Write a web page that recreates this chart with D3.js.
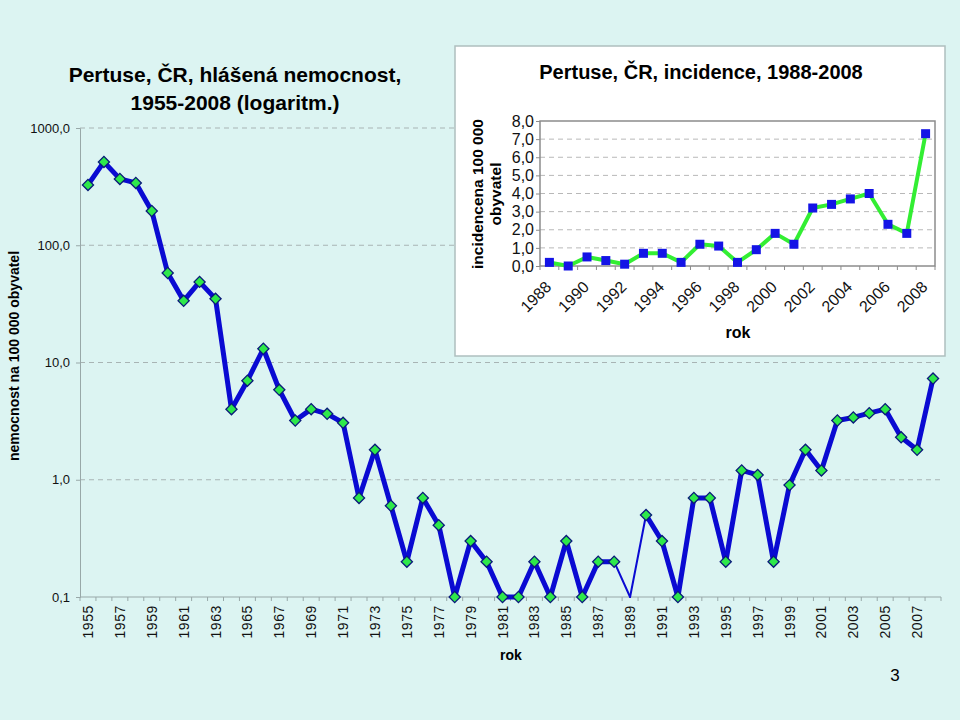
<!DOCTYPE html>
<html><head><meta charset="utf-8">
<script src="https://cdn.jsdelivr.net/npm/d3@7"></script>
<style>
html,body{margin:0;padding:0;background:#dcf4f2;}
svg{display:block;font-family:"Liberation Sans",Arial,sans-serif;}
</style></head>
<body>
<svg id="c" width="960" height="720"></svg>
<script>
// ---- main chart data (1955-2008, per 100 000, log scale) ----
const years = [1955,1956,1957,1958,1959,1960,1961,1962,1963,1964,1965,1966,1967,1968,1969,1970,1971,1972,1973,1974,1975,1976,1977,1978,1979,1980,1981,1982,1983,1984,1985,1986,1987,1988,1989,1990,1991,1992,1993,1994,1995,1996,1997,1998,1999,2000,2001,2002,2003,2004,2005,2006,2007,2008];
const morbidity = [327,514,368,340,196,58,33.6,48.7,34.9,4.0,7.0,13.1,5.85,3.2,4.0,3.65,3.06,0.7,1.8,0.6,0.2,0.7,0.41,0.1,0.3,0.2,0.1,0.1,0.2,0.1,0.3,0.1,0.2,0.2,0,0.5,0.3,0.1,0.7,0.7,0.2,1.2,1.1,0.2,0.9,1.8,1.2,3.2,3.4,3.7,4.0,2.3,1.8,7.3];
const mainYTicks = [1000,100,10,1,0.1];
const mainYTickLabels = ["1000,0","100,0","10,0","1,0","0,1"];

// ---- inset data (1988-2008) ----
const insetYears = [1988,1989,1990,1991,1992,1993,1994,1995,1996,1997,1998,1999,2000,2001,2002,2003,2004,2005,2006,2007,2008];
const incidence = [0.2,0.0,0.5,0.3,0.1,0.7,0.7,0.2,1.2,1.1,0.2,0.9,1.8,1.2,3.2,3.4,3.7,4.0,2.3,1.8,7.3];
const insetYTicks = [0,1,2,3,4,5,6,7,8];

const svg = d3.select("#c");
svg.append("rect").attr("width",960).attr("height",720).attr("fill","#dcf4f2");

// ================= MAIN CHART =================
const M = {left:80, right:941, top:128, bottom:597};
const x = d3.scaleBand().domain(years).range([M.left, M.right]);
const y = d3.scaleLog().domain([0.1,1000]).range([M.bottom, M.top]);
const fmt = d3.formatLocale({decimal:",",thousands:"\u00a0",grouping:[3],currency:["",""]});
const yv = v => v > 0 ? y(v) : M.bottom;
const cx = d => x(d) + x.bandwidth()/2;

const g = svg.append("g");
g.selectAll("line.grid").data(mainYTicks.slice(0,4)).join("line")
  .attr("x1",M.left).attr("x2",M.right).attr("y1",d=>y(d)).attr("y2",d=>y(d))
  .attr("stroke","#a8b4b4").attr("stroke-width",1).attr("stroke-dasharray","5,4");
const yAxis = d3.axisLeft(y).tickValues(mainYTicks).tickSize(4)
  .tickFormat((d,i)=>mainYTickLabels[i]);
const ya = g.append("g").attr("transform",`translate(${M.left},0)`).call(yAxis);
ya.select(".domain").attr("stroke","#98a8a8");
ya.selectAll(".tick line").attr("stroke","#98a8a8");
ya.selectAll("text").attr("font-size",13).attr("fill","#111").attr("x",-10)
  .attr("font-family","Liberation Sans, Arial, sans-serif");
g.append("line").attr("x1",M.left).attr("x2",M.right).attr("y1",M.bottom).attr("y2",M.bottom)
  .attr("stroke","#98a8a8");
const bounds = years.map(d=>x(d)).concat([M.right]);
g.selectAll("line.xt").data(bounds).join("line")
  .attr("x1",d=>d).attr("x2",d=>d).attr("y1",M.bottom).attr("y2",M.bottom+4)
  .attr("stroke","#98a8a8");
g.selectAll("text.xl").data(years.filter((d,i)=>i%2===0)).join("text")
  .attr("transform",d=>`translate(${cx(d)+5},${M.bottom+8}) rotate(-90)`)
  .attr("text-anchor","end").attr("font-size",14).attr("letter-spacing",0.6).attr("fill","#111")
  .text(d=>d);
const pts = years.map((d,i)=>({yr:d, v:morbidity[i]}));
for (let i=0;i<pts.length-1;i++){
  const a=pts[i], b=pts[i+1];
  const thin = a.v===0 || b.v===0;
  g.append("line").attr("x1",cx(a.yr)).attr("y1",yv(a.v)).attr("x2",cx(b.yr)).attr("y2",yv(b.v))
    .attr("stroke","#0a0ad2").attr("stroke-width",thin?2:5).attr("stroke-linecap","round");
}
g.selectAll("path.mk").data(pts.filter(p=>p.v>0)).join("path")
  .attr("d",d3.symbol(d3.symbolSquare,62)())
  .attr("transform",d=>`translate(${cx(d.yr)},${yv(d.v)}) rotate(45)`)
  .attr("fill","#2ee84a").attr("stroke","#0a1a7a").attr("stroke-width",1.3);

svg.append("text").attr("x",235).attr("y",82).attr("text-anchor","middle")
  .attr("font-size",21).attr("font-weight","bold").attr("fill","#000")
  .text("Pertuse, ČR, hlášená nemocnost,");
svg.append("text").attr("x",235).attr("y",110).attr("text-anchor","middle")
  .attr("font-size",21).attr("font-weight","bold").attr("fill","#000")
  .text("1955-2008 (logaritm.)");
svg.append("text").attr("transform","translate(19,356) rotate(-90)").attr("text-anchor","middle")
  .attr("font-size",14).attr("font-weight","bold").attr("fill","#000")
  .text("nemocnost na 100 000 obyvatel");
svg.append("text").attr("x",511).attr("y",660).attr("text-anchor","middle")
  .attr("font-size",14).attr("font-weight","bold").attr("fill","#000").text("rok");
svg.append("text").attr("x",895).attr("y",681).attr("text-anchor","middle")
  .attr("font-size",17).attr("fill","#000").text("3");

// ================= INSET =================
const ib = svg.append("g");
ib.append("rect").attr("x",455).attr("y",46).attr("width",490).attr("height",310)
  .attr("fill","#fff").attr("stroke","#aebfbf").attr("stroke-width",1.5);
const I = {left:540, right:935, top:121, bottom:266};
const xi = d3.scaleBand().domain(insetYears).range([I.left,I.right]);
const yi = d3.scaleLinear().domain([0,8]).range([I.bottom,I.top]);
const cxi = d => xi(d)+xi.bandwidth()/2;
ib.selectAll("line.ig").data(insetYTicks.slice(1,8)).join("line")
  .attr("x1",I.left).attr("x2",I.right).attr("y1",d=>yi(d)).attr("y2",d=>yi(d))
  .attr("stroke","#b8b8b8").attr("stroke-dasharray","5,4");
ib.append("rect").attr("x",I.left).attr("y",I.top).attr("width",I.right-I.left).attr("height",I.bottom-I.top)
  .attr("fill","none").attr("stroke","#8c8c8c").attr("stroke-width",1.5);
const yia = ib.append("g").attr("transform",`translate(${I.left},0)`)
  .call(d3.axisLeft(yi).tickValues(insetYTicks).tickSize(4).tickFormat(d=>fmt.format(".1f")(d)));
yia.select(".domain").remove();
yia.selectAll(".tick line").attr("stroke","#8c8c8c");
yia.selectAll("text").attr("font-size",16).attr("fill","#111").attr("x",-6)
  .attr("font-family","Liberation Sans, Arial, sans-serif");
const ibounds = insetYears.map(d=>xi(d)).concat([I.right]);
ib.selectAll("line.ixt").data(ibounds).join("line")
  .attr("x1",d=>d).attr("x2",d=>d).attr("y1",I.bottom).attr("y2",I.bottom+4).attr("stroke","#8c8c8c");
ib.selectAll("text.ixl").data(insetYears.filter((d,i)=>i%2===0)).join("text")
  .attr("transform",d=>`translate(${cxi(d)+3},${I.bottom+22}) rotate(-45)`)
  .attr("text-anchor","end").attr("font-size",16).attr("fill","#111").text(d=>d);
const ipts = insetYears.map((d,i)=>({yr:d,v:incidence[i]}));
ib.append("path").datum(ipts)
  .attr("d",d3.line().x(d=>cxi(d.yr)).y(d=>yi(d.v)))
  .attr("fill","none").attr("stroke","#33ee33").attr("stroke-width",4).attr("stroke-linejoin","round");
ib.selectAll("rect.sq").data(ipts).join("rect")
  .attr("x",d=>cxi(d.yr)-4.5).attr("y",d=>yi(d.v)-4.5).attr("width",9).attr("height",9)
  .attr("fill","#1414e6");
ib.append("text").attr("x",701).attr("y",79).attr("text-anchor","middle")
  .attr("font-size",20).attr("font-weight","bold").attr("fill","#000")
  .text("Pertuse, ČR, incidence, 1988-2008");
ib.append("text").attr("transform","translate(483,194) rotate(-90)").attr("text-anchor","middle")
  .attr("font-size",15.5).attr("font-weight","bold").attr("fill","#000").text("incidencena 100 000");
ib.append("text").attr("transform","translate(501,194) rotate(-90)").attr("text-anchor","middle")
  .attr("font-size",15.5).attr("font-weight","bold").attr("fill","#000").text("obyvatel");
ib.append("text").attr("x",738).attr("y",338).attr("text-anchor","middle")
  .attr("font-size",16).attr("font-weight","bold").attr("fill","#000").text("rok");
</script>
</body></html>
